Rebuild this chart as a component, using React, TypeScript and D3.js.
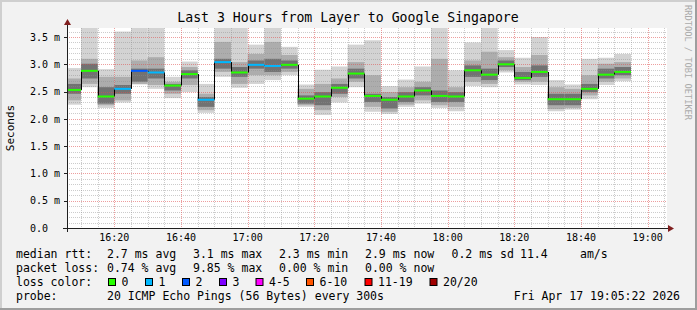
import React from "react";
import * as d3 from "d3";

// ---- data ----
const DAY = "2026-04-17";
const barStarts = [
  "16:05", "16:10", "16:15", "16:20", "16:25", "16:30", "16:35", "16:40", "16:45", "16:50",
  "16:55", "17:00", "17:05", "17:10", "17:15", "17:20", "17:25", "17:30", "17:35", "17:40",
  "17:45", "17:50", "17:55", "18:00", "18:05", "18:10", "18:15", "18:20", "18:25", "18:30",
  "18:35", "18:40", "18:45", "18:50",
];
// median RTT (ms)
const median = [2.53, 2.88, 2.41, 2.55, 2.88, 2.85, 2.61, 2.82, 2.35, 3.04, 2.85, 2.99, 2.97, 2.99, 2.37, 2.41, 2.57, 2.83, 2.42, 2.35, 2.41, 2.52, 2.42, 2.41, 2.89, 2.81, 3.0, 2.75, 2.86, 2.36, 2.36, 2.55, 2.81, 2.86];
// smoke: full range of pings
const smokeMin = [2.26, 2.58, 2.2, 2.3, 2.63, 2.55, 2.38, 2.49, 2.11, 2.77, 2.57, 2.64, 2.71, 2.8, 2.22, 2.07, 2.3, 2.58, 2.13, 2.09, 2.22, 2.28, 2.2, 2.14, 2.6, 2.58, 2.85, 2.63, 2.62, 2.14, 2.17, 2.36, 2.62, 2.69];
const smokeMax = [2.93, 4.0, 2.91, 3.6, 4.0, 4.0, 2.77, 3.05, 2.64, 4.0, 4.0, 3.36, 4.0, 3.32, 2.63, 2.9, 2.96, 3.36, 3.44, 2.6, 2.72, 2.96, 4.0, 2.89, 3.4, 4.0, 3.26, 3.12, 3.5, 2.71, 2.63, 3.1, 3.12, 3.19];
// smoke: middle band
const midLo = [2.34, 2.64, 2.25, 2.34, 2.64, 2.62, 2.46, 2.62, 2.16, 2.86, 2.64, 2.8, 2.8, 2.86, 2.25, 2.16, 2.4, 2.68, 2.22, 2.13, 2.26, 2.34, 2.25, 2.22, 2.68, 2.64, 2.89, 2.68, 2.68, 2.18, 2.2, 2.43, 2.68, 2.74];
const midHi = [2.74, 3.1, 2.77, 2.77, 3.07, 3.13, 2.68, 2.95, 2.46, 3.41, 3.04, 3.19, 3.41, 3.17, 2.55, 2.64, 2.74, 3.04, 2.8, 2.49, 2.58, 2.68, 3.1, 2.58, 3.07, 3.23, 3.13, 2.95, 3.17, 2.58, 2.55, 2.8, 3.01, 3.04];
// smoke: core band
const coreLo = [2.46, 2.74, 2.28, 2.46, 2.68, 2.74, 2.52, 2.74, 2.22, 2.92, 2.77, 2.92, 2.86, 2.92, 2.28, 2.25, 2.46, 2.74, 2.31, 2.19, 2.31, 2.43, 2.31, 2.31, 2.77, 2.71, 2.95, 2.71, 2.77, 2.25, 2.25, 2.49, 2.74, 2.8];
const coreHi = [2.64, 3.01, 2.58, 2.62, 2.92, 2.92, 2.64, 2.89, 2.4, 3.1, 2.95, 3.07, 3.1, 3.07, 2.43, 2.49, 2.64, 2.92, 2.46, 2.4, 2.49, 2.58, 2.52, 2.49, 2.98, 2.92, 3.07, 2.86, 2.98, 2.46, 2.46, 2.64, 2.92, 2.95];
// lost packets per step
const lossCount = [0, 0, 0, 1, 2, 1, 0, 0, 1, 1, 0, 1, 1, 0, 0, 0, 0, 0, 0, 0, 0, 0, 0, 0, 0, 0, 0, 0, 0, 0, 0, 0, 0, 0];

const yTickValues = [0, 0.5, 1.0, 1.5, 2.0, 2.5, 3.0, 3.5];
const yTickLabels = ["0.0", "0.5 m", "1.0 m", "1.5 m", "2.0 m", "2.5 m", "3.0 m", "3.5 m"];
const xTickLabels = ["16:20", "16:40", "17:00", "17:20", "17:40", "18:00", "18:20", "18:40", "19:00"];

const lossLabels = ["0", "1", "2", "3", "4-5", "6-10", "11-19", "20/20"];
const lossColors = ["#26ff00", "#00b8ff", "#0059ff", "#7e00ff", "#ff00ff", "#ff5500", "#ff0000", "#a10000"];
const lossLegendX = [108.5, 145.5, 182.5, 219.5, 256, 306.5, 365, 430];

const statsRow1 = [
  { x: 16, t: "median rtt:" },
  { x: 107, t: "2.7 ms avg" },
  { x: 193, t: "3.1 ms max" },
  { x: 279, t: "2.3 ms min" },
  { x: 365, t: "2.9 ms now" },
  { x: 451.5, t: "0.2 ms sd" },
  { x: 520, t: "11.4" },
  { x: 580, t: "am/s" },
];
const statsRow2 = [
  { x: 16, t: "packet loss:" },
  { x: 107, t: "0.74 % avg" },
  { x: 193, t: "9.85 % max" },
  { x: 279, t: "0.00 % min" },
  { x: 365, t: "0.00 % now" },
];

const W = 697;
const H = 310;
const PL = 67, PR = 667, PT = 28, PB = 228;
const MONO = "'DejaVu Sans Mono', monospace";

const parse = d3.timeParse("%Y-%m-%d %H:%M:%S");
const t = (hm: string) => parse(`${DAY} ${hm}:00`) as Date;

function lossIndex(n: number) {
  if (n <= 0) return 0;
  if (n === 1) return 1;
  if (n === 2) return 2;
  if (n === 3) return 3;
  if (n <= 5) return 4;
  if (n <= 10) return 5;
  if (n <= 19) return 6;
  return 7;
}

export default function App() {
  const x = d3
    .scaleTime()
    .domain([parse(`${DAY} 16:05:48`) as Date, parse(`${DAY} 19:05:48`) as Date])
    .range([PL, PR]);
  const y = d3.scaleLinear().domain([0, 3.665]).range([PB, PT]);

  const minorTimes = x.ticks(d3.timeMinute.every(5) as any);
  const minorVals = d3.range(1, 37).map((i) => i / 10);

  const bars = barStarts.map((s, i) => {
    const st = t(s);
    const en = d3.timeMinute.offset(st, 5);
    const x1 = Math.max(PL, x(st));
    const x2 = Math.min(PR, x(en));
    return { i, x1, x2 };
  });

  const band = (lo: number[], hi: number[], fill: string, key: string) =>
    bars.map((b) => {
      const yt = y(hi[b.i]);
      const yb = y(lo[b.i]);
      return <rect key={key + b.i} x={b.x1} y={yt} width={b.x2 - b.x1} height={yb - yt} fill={fill} />;
    });

  return (
    <svg width={W} height={H} style={{ position: "absolute", left: 0, top: 0 }} xmlns="http://www.w3.org/2000/svg">
      <defs>
        <clipPath id="plotClip">
          <rect x={PL} y={PT} width={PR - PL} height={PB - PT} />
        </clipPath>
      </defs>
      <rect x={0} y={0} width={W} height={H} fill="#f2f2f2" />
      {/* frame */}
      <line x1={0} y1={1} x2={W} y2={1} stroke="#cfcfcf" strokeWidth={2} />
      <line x1={1} y1={0} x2={1} y2={H} stroke="#cfcfcf" strokeWidth={2} />
      <line x1={0} y1={H - 1} x2={W} y2={H - 1} stroke="#9e9e9e" strokeWidth={2} />
      <line x1={W - 1} y1={0} x2={W - 1} y2={H} stroke="#9e9e9e" strokeWidth={2} />

      {/* canvas */}
      <rect x={PL} y={PT} width={PR - PL} height={PB - PT} fill="#ffffff" />

      {/* smoke */}
      <g clipPath="url(#plotClip)">
        {band(smokeMin, smokeMax, "#d3d3d3", "o")}
        {band(midLo, midHi, "#adadad", "m")}
        {band(coreLo, coreHi, "#727272", "c")}
      </g>

      {/* grid */}
      <g>
        {minorVals
          .filter((v) => Math.abs(v * 2 - Math.round(v * 2)) > 1e-6)
          .map((v) => (
            <line key={"hy" + v} x1={PL} x2={PR} y1={Math.round(y(v)) + 0.5} y2={Math.round(y(v)) + 0.5} stroke="#8f8f8f" strokeOpacity={0.45} strokeDasharray="1 1" />
          ))}
        {minorTimes
          .filter((d) => d.getMinutes() % 20 !== 0)
          .map((d) => (
            <line key={"vx" + +d} x1={Math.round(x(d)) + 0.5} x2={Math.round(x(d)) + 0.5} y1={PT} y2={PB} stroke="#8f8f8f" strokeOpacity={0.45} strokeDasharray="1 1" />
          ))}
        {yTickValues.slice(1).map((v) => (
          <line key={"my" + v} x1={PL} x2={PR} y1={Math.round(y(v)) + 0.5} y2={Math.round(y(v)) + 0.5} stroke="#de4f4f" strokeOpacity={0.55} strokeDasharray="1 1" />
        ))}
        {xTickLabels.map((l) => {
          const xx = Math.round(x(t(l))) + 0.5;
          return <line key={"mx" + l} x1={xx} x2={xx} y1={PT} y2={PB} stroke="#de4f4f" strokeOpacity={0.55} strokeDasharray="1 1" />;
        })}
      </g>

      {/* median step connectors */}
      <g clipPath="url(#plotClip)">
        {bars.slice(1).map((b) => (
          <line key={"st" + b.i} x1={Math.round(b.x1) + 0.5} x2={Math.round(b.x1) + 0.5} y1={y(median[b.i - 1])} y2={y(median[b.i])} stroke="#000" strokeWidth={1} />
        ))}
        {bars.map((b) => (
          <line key={"md" + b.i} x1={b.x1} x2={b.x2} y1={y(median[b.i])} y2={y(median[b.i])} stroke={lossColors[lossIndex(lossCount[b.i])]} strokeWidth={2} />
        ))}
      </g>

      {/* axes */}
      <line x1={63} x2={669} y1={PB + 0.5} y2={PB + 0.5} stroke="#1f1f1f" />
      <path d={`M668,${PB - 3} L674,${PB + 0.5} L668,${PB + 4} Z`} fill="#801f1f" />
      <line x1={PL + 0.5} x2={PL + 0.5} y1={PB + 4} y2={24} stroke="#1f1f1f" />
      <path d={`M${PL - 3},25 L${PL + 0.5},19 L${PL + 4},25 Z`} fill="#801f1f" />
      {yTickValues.map((v) => (
        <line key={"yt" + v} x1={PL - 3} x2={PL} y1={Math.round(y(v)) + 0.5} y2={Math.round(y(v)) + 0.5} stroke="#1f1f1f" />
      ))}

      {/* tick labels */}
      <g fontFamily={MONO} fontSize={10} fill="#000">
        {yTickValues.map((v, i) => (
          <text key={"yl" + v} x={30} y={y(v) + 3.7}>
            {yTickLabels[i]}
          </text>
        ))}
        {xTickLabels.map((l) => (
          <text key={"xl" + l} x={x(t(l))} y={241} textAnchor="middle">
            {l}
          </text>
        ))}
      </g>

      {/* titles */}
      <text x={348} y={22} textAnchor="middle" fontFamily={MONO} fontSize={13.2} fill="#000">
        Last 3 Hours from Layer to Google Singapore
      </text>
      <text transform={`translate(14,${(PT + PB) / 2}) rotate(-90)`} textAnchor="middle" fontFamily={MONO} fontSize={11} fill="#000">
        Seconds
      </text>
      <text transform="translate(685,5) rotate(90)" fontFamily={MONO} fontSize={8.7} fill="#aaaaaa">
        RRDTOOL / TOBI OETIKER
      </text>

      {/* legend */}
      <g fontFamily={MONO} fontSize={11.5} fill="#000" style={{ whiteSpace: "pre" }}>
        {statsRow1.map((s) => (
          <text key={"r1" + s.x} x={s.x} y={257.5}>
            {s.t}
          </text>
        ))}
        {statsRow2.map((s) => (
          <text key={"r2" + s.x} x={s.x} y={271.5}>
            {s.t}
          </text>
        ))}
        <text x={16} y={285.5}>loss color:</text>
        {lossLabels.map((l, i) => (
          <g key={"lc" + l}>
            <rect x={lossLegendX[i]} y={278.5} width={7} height={7} fill={lossColors[i]} stroke="#000" strokeWidth={1} />
            <text x={lossLegendX[i] + 13} y={285.5}>
              {l}
            </text>
          </g>
        ))}
        <text x={16} y={299.5}>probe:</text>
        <text x={107} y={299.5}>20 ICMP Echo Pings (56 Bytes) every 300s</text>
        <text x={680} y={299.5} textAnchor="end">
          Fri Apr 17 19:05:22 2026
        </text>
      </g>
    </svg>
  );
}
